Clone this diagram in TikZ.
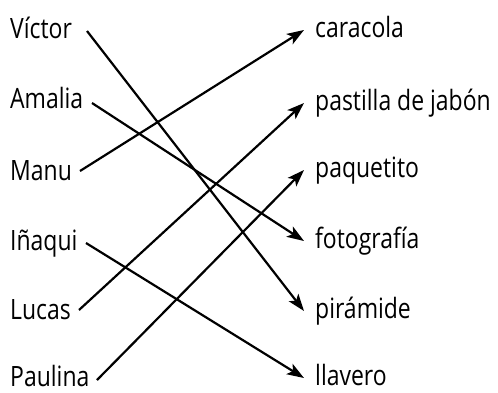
\documentclass[tikz,border=0pt]{standalone}
\usepackage{fontspec}
\setmainfont[FakeStretch=0.82]{Open Sans}
\usetikzlibrary{arrows.meta}
\begin{document}
\begin{tikzpicture}[x=1pt,y=-1pt,
  lbl/.style={anchor=base west,inner sep=0pt,text depth=0pt,font=\fontsize{28}{30}\selectfont},
  arr/.style={line width=2.2pt,-{Stealth[length=17pt,width=12pt,inset=4pt]}}]
\useasboundingbox (0,0) rectangle (498,392);
% left names
\node[lbl] (victor)  at (10,38)  {Víctor};
\node[lbl] (amalia)  at (10,108) {Amalia};
\node[lbl] (manu)    at (10,180) {Manu};
\node[lbl] (inaqui)  at (10,250) {Iñaqui};
\node[lbl] (lucas)   at (10,319) {Lucas};
\node[lbl] (paulina) at (10,386) {Paulina};
% right items
\node[lbl] (caracola) at (315,37)  {caracola};
\node[lbl] (pastilla) at (315,110) {pastilla de jabón};
\node[lbl] (paquet)   at (315,177) {paquetito};
\node[lbl] (foto)     at (315,248) {fotografía};
\node[lbl] (piram)    at (315,318) {pirámide};
\node[lbl] (llavero)  at (315,385) {llavero};
% connector ends
\coordinate (sV) at (87,31);
\coordinate (sA) at (92,103);
\coordinate (sM) at (80,171);
\coordinate (sI) at (86,243);
\coordinate (sL) at (79,310);
\coordinate (sP) at (97,380);
\coordinate (eC) at (304,30);
\coordinate (eS) at (304,103);
\coordinate (eQ) at (304,170);
\coordinate (eF) at (304,241);
\coordinate (eR) at (304,311);
\coordinate (eL) at (304,378);
\draw[arr] (sV) -- (eR);
\draw[arr] (sA) -- (eF);
\draw[arr] (sM) -- (eC);
\draw[arr] (sI) -- (eL);
\draw[arr] (sL) -- (eS);
\draw[arr] (sP) -- (eQ);
\end{tikzpicture}
\end{document}
